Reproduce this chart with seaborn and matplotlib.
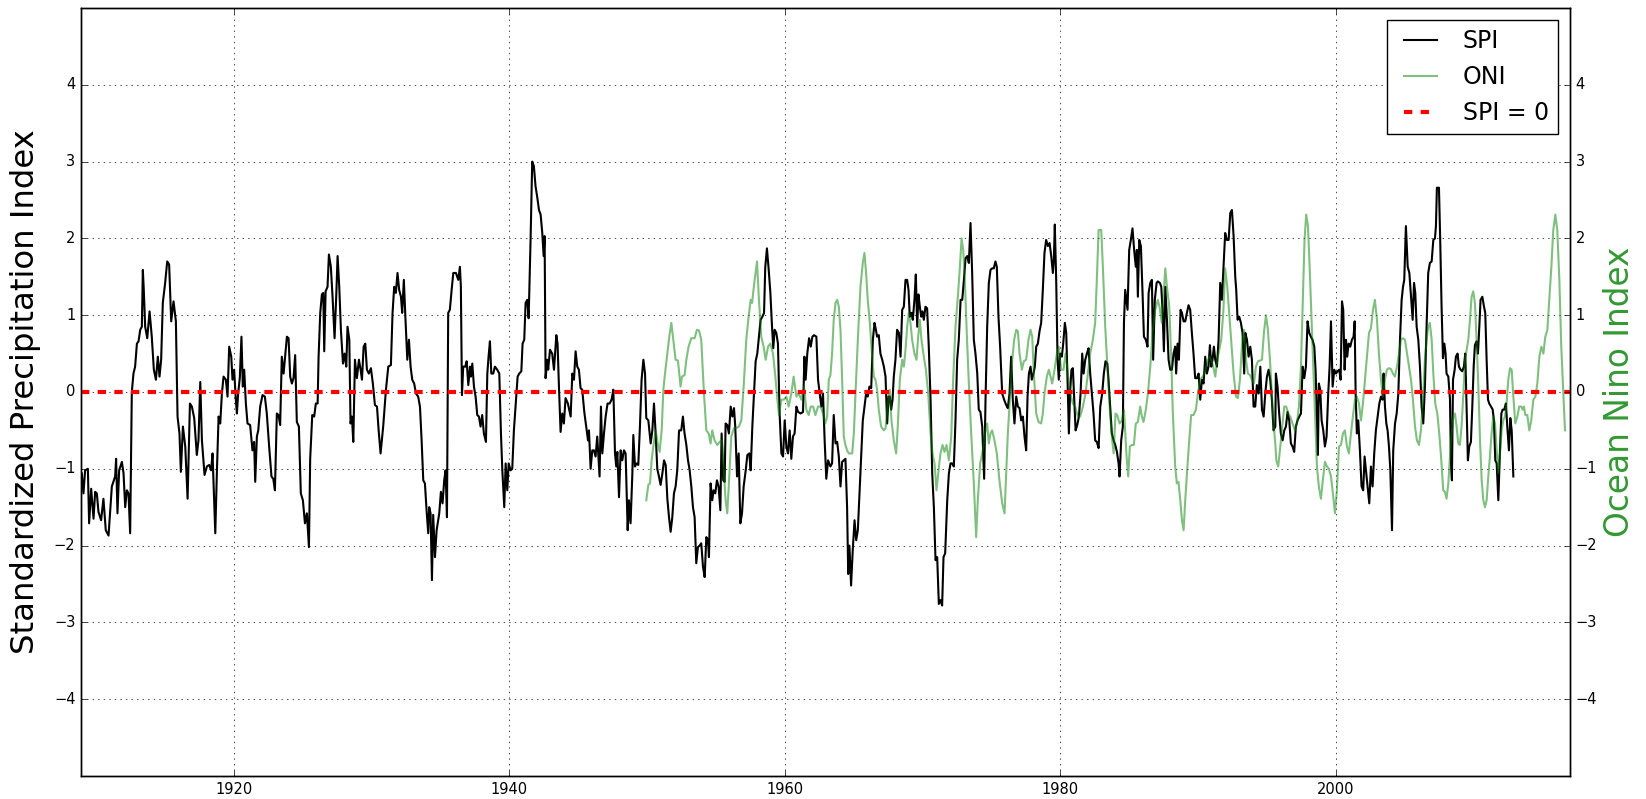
import matplotlib
matplotlib.use("Agg")
import matplotlib.pyplot as plt
import seaborn as sns

# SPI (year, value)
spi = [
    (1908.96, -1.06), (1909.08, -1.32), (1909.20, -1.02), (1909.40, -1.00), (1909.49, -1.71), (1909.64, -1.26),
    (1909.81, -1.65), (1909.93, -1.30), (1910.05, -1.32), (1910.17, -1.56), (1910.36, -1.67), (1910.53, -1.39),
    (1910.70, -1.80), (1910.90, -1.87), (1911.14, -1.23), (1911.38, -1.10), (1911.45, -0.87), (1911.55, -1.58),
    (1911.67, -1.02), (1911.87, -0.91), (1911.99, -1.06), (1912.11, -1.50), (1912.23, -1.28), (1912.35, -1.32),
    (1912.47, -1.84), (1912.59, 0.00), (1912.71, 0.24), (1912.83, 0.33), (1912.96, 0.63), (1913.08, 0.66),
    (1913.20, 0.81), (1913.32, 0.85), (1913.39, 1.59), (1913.46, 1.33), (1913.56, 0.85), (1913.71, 0.70),
    (1913.88, 1.05), (1914.04, 0.72), (1914.19, 0.29), (1914.34, 0.16), (1914.48, 0.46), (1914.60, 0.20),
    (1914.72, 0.42), (1914.84, 1.16), (1915.01, 1.42), (1915.16, 1.70), (1915.30, 1.66), (1915.45, 0.92),
    (1915.62, 1.18), (1915.79, 0.92), (1915.91, -0.32), (1916.05, -0.54), (1916.15, -1.04), (1916.30, -0.45),
    (1916.47, -0.71), (1916.64, -1.39), (1916.81, -0.15), (1916.95, -0.19), (1917.12, -0.34), (1917.31, -0.82),
    (1917.43, -0.63), (1917.56, 0.13), (1917.68, -0.63), (1917.87, -1.08), (1918.04, -0.97), (1918.21, -0.95),
    (1918.35, -1.02), (1918.45, -0.80), (1918.65, -1.84), (1918.77, -1.02), (1918.89, -0.32), (1919.01, -0.41),
    (1919.13, -0.02), (1919.25, 0.20), (1919.42, 0.16), (1919.54, -0.06), (1919.66, 0.59), (1919.81, 0.46),
    (1919.90, 0.16), (1920.02, 0.29), (1920.14, -0.10), (1920.22, -0.28), (1920.31, -0.02), (1920.43, 0.18),
    (1920.55, 0.72), (1920.65, 0.07), (1920.75, 0.29), (1920.87, -0.15), (1920.99, -0.41), (1921.18, -0.43),
    (1921.35, -0.76), (1921.47, -0.65), (1921.55, -1.17), (1921.67, -0.58), (1921.77, -0.50), (1921.91, -0.19),
    (1922.08, -0.04), (1922.25, -0.06), (1922.39, -0.28), (1922.56, -0.71), (1922.73, -1.10), (1922.86, -1.13),
    (1922.98, -1.28), (1923.12, -0.28), (1923.24, -0.30), (1923.36, -0.43), (1923.48, 0.46), (1923.61, 0.24),
    (1923.70, 0.42), (1923.85, 0.72), (1923.97, 0.70), (1924.09, 0.20), (1924.21, 0.11), (1924.33, 0.18),
    (1924.45, 0.48), (1924.57, -0.39), (1924.72, -0.45), (1924.86, -1.32), (1925.01, -1.41), (1925.16, -1.71),
    (1925.30, -1.58), (1925.45, -2.02), (1925.54, -0.87), (1925.69, -0.30), (1925.83, -0.32), (1925.95, -0.15),
    (1926.08, -0.15), (1926.15, 0.46), (1926.27, 1.03), (1926.39, 1.27), (1926.49, 1.29), (1926.56, 0.53),
    (1926.66, 1.31), (1926.80, 1.37), (1926.90, 1.79), (1927.04, 1.63), (1927.17, 1.22), (1927.31, 0.70),
    (1927.43, 1.24), (1927.53, 1.77), (1927.65, 1.37), (1927.77, 0.81), (1927.92, 0.37), (1928.04, 0.50),
    (1928.16, 0.33), (1928.25, 0.85), (1928.38, 0.68), (1928.47, -0.41), (1928.57, -0.32), (1928.67, -0.65),
    (1928.79, 0.42), (1928.93, 0.18), (1929.08, 0.42), (1929.20, 0.29), (1929.30, 0.16), (1929.42, 0.59),
    (1929.54, 0.63), (1929.66, 0.29), (1929.80, 0.24), (1929.95, 0.31), (1930.09, 0.11), (1930.24, -0.17),
    (1930.39, -0.19), (1930.51, -0.50), (1930.65, -0.80), (1930.84, -0.45), (1931.04, 0.03), (1931.21, 0.33),
    (1931.40, 0.35), (1931.52, 1.03), (1931.64, 1.37), (1931.76, 1.29), (1931.88, 1.55), (1932.00, 1.33),
    (1932.13, 1.24), (1932.22, 1.03), (1932.34, 1.46), (1932.46, 0.94), (1932.59, 0.42), (1932.71, 0.68),
    (1932.83, 0.33), (1932.95, 0.16), (1933.09, 0.11), (1933.22, -0.02), (1933.38, -0.06), (1933.51, -0.19),
    (1933.63, -0.63), (1933.75, -1.15), (1933.87, -1.19), (1933.99, -1.54), (1934.11, -1.84), (1934.18, -1.50),
    (1934.28, -1.58), (1934.38, -2.45), (1934.47, -1.60), (1934.60, -2.15), (1934.72, -1.80), (1934.91, -1.58),
    (1935.03, -1.30), (1935.15, -1.45), (1935.27, -1.15), (1935.37, -1.02), (1935.47, -1.63), (1935.56, 1.03),
    (1935.68, 1.07), (1935.81, 1.33), (1935.93, 1.55), (1936.12, 1.55), (1936.29, 1.46), (1936.41, 1.63),
    (1936.48, 1.37), (1936.56, -0.04), (1936.65, 0.33), (1936.80, 0.33), (1936.90, 0.40), (1937.02, 0.09),
    (1937.14, 0.33), (1937.21, 0.20), (1937.31, 0.37), (1937.43, 0.07), (1937.55, -0.06), (1937.67, -0.30),
    (1937.79, -0.32), (1937.91, -0.45), (1938.03, -0.30), (1938.15, -0.54), (1938.30, -0.65), (1938.40, 0.24),
    (1938.49, 0.46), (1938.59, 0.66), (1938.69, 0.24), (1938.83, 0.24), (1938.95, 0.33), (1939.12, 0.29),
    (1939.27, 0.24), (1939.39, -0.54), (1939.49, -1.02), (1939.63, -1.50), (1939.73, -0.93), (1939.85, -1.28),
    (1939.95, -0.93), (1940.09, -1.02), (1940.21, -1.00), (1940.33, -0.50), (1940.48, -0.10), (1940.60, 0.20),
    (1940.72, 0.24), (1940.87, 0.27), (1940.96, 0.63), (1941.08, 0.68), (1941.18, 1.16), (1941.30, 1.20),
    (1941.40, 0.96), (1941.54, 1.98), (1941.66, 3.00), (1941.78, 2.94), (1941.90, 2.68), (1942.03, 2.53),
    (1942.15, 2.37), (1942.27, 2.31), (1942.39, 2.07), (1942.49, 1.77), (1942.56, 2.03), (1942.63, 0.18),
    (1942.75, 0.42), (1942.82, 0.29), (1942.95, 0.55), (1943.11, 0.50), (1943.24, 0.29), (1943.41, 0.74),
    (1943.50, 0.63), (1943.60, 0.07), (1943.72, -0.52), (1943.84, -0.28), (1943.96, -0.41), (1944.08, -0.08),
    (1944.25, -0.15), (1944.45, -0.32), (1944.57, 0.24), (1944.69, 0.16), (1944.81, 0.53), (1944.93, 0.33),
    (1945.05, 0.29), (1945.17, 0.05), (1945.29, 0.03), (1945.44, -0.26), (1945.58, -0.45), (1945.71, -0.63),
    (1945.78, -0.50), (1945.90, -1.00), (1946.02, -0.76), (1946.14, -0.76), (1946.26, -0.84), (1946.38, -0.58),
    (1946.55, -1.10), (1946.65, -0.19), (1946.75, -0.80), (1946.87, -0.54), (1946.99, -0.32), (1947.13, -0.15),
    (1947.28, -0.15), (1947.42, -0.10), (1947.55, 0.03), (1947.67, -0.80), (1947.76, -0.97), (1947.84, -0.78),
    (1947.96, -1.37), (1948.08, -0.76), (1948.20, -0.89), (1948.32, -0.76), (1948.44, -0.80), (1948.59, -1.80),
    (1948.68, -1.41), (1948.80, -1.71), (1948.93, -1.06), (1949.00, -0.56), (1949.12, -0.97), (1949.24, -0.93),
    (1949.36, -0.95), (1949.48, -0.45), (1949.60, 0.16), (1949.73, 0.42), (1949.85, 0.24), (1949.94, -0.34),
    (1950.09, -0.37), (1950.26, -0.67), (1950.38, -0.50), (1950.50, -0.15), (1950.62, -0.54), (1950.74, -1.00),
    (1950.86, -1.10), (1950.98, -1.21), (1951.11, -1.06), (1951.23, -0.89), (1951.35, -0.95), (1951.47, -1.39),
    (1951.59, -1.63), (1951.71, -1.82), (1951.83, -1.63), (1951.95, -1.32), (1952.07, -1.23), (1952.19, -1.02),
    (1952.32, -0.50), (1952.48, -0.50), (1952.60, -0.32), (1952.72, -0.54), (1952.85, -0.69), (1952.97, -0.89),
    (1953.09, -1.02), (1953.21, -1.23), (1953.33, -1.50), (1953.45, -1.63), (1953.57, -2.23), (1953.69, -2.02),
    (1953.81, -2.00), (1953.93, -1.97), (1954.06, -2.28), (1954.18, -2.41), (1954.30, -1.89), (1954.42, -1.93),
    (1954.49, -2.15), (1954.61, -1.19), (1954.73, -1.41), (1954.83, -1.28), (1954.95, -1.32), (1955.07, -1.15),
    (1955.19, -1.23), (1955.32, -1.54), (1955.41, -0.54), (1955.53, -1.15), (1955.63, -1.17), (1955.70, -0.41),
    (1955.82, -0.43), (1955.94, -0.54), (1956.07, -0.19), (1956.19, -0.32), (1956.31, -0.21), (1956.40, -0.45),
    (1956.53, -1.10), (1956.65, -0.80), (1956.77, -1.71), (1956.89, -1.58), (1957.01, -1.23), (1957.16, -1.02),
    (1957.28, -0.82), (1957.42, -0.80), (1957.52, -1.02), (1957.64, -0.45), (1957.76, -0.02), (1957.88, 0.40),
    (1958.00, 0.50), (1958.12, 0.72), (1958.24, 0.94), (1958.37, 0.98), (1958.49, 1.03), (1958.58, 1.63),
    (1958.70, 1.87), (1958.83, 1.59), (1958.95, 1.29), (1959.07, 0.85), (1959.16, 0.57), (1959.26, 0.81),
    (1959.38, 0.77), (1959.50, 0.63), (1959.62, -0.28), (1959.75, -0.80), (1959.87, -0.84), (1959.99, -0.37),
    (1960.11, -0.71), (1960.23, -0.80), (1960.35, -0.50), (1960.47, -0.87), (1960.59, -0.58), (1960.71, -0.54),
    (1960.84, -0.19), (1960.96, -0.26), (1961.15, -0.28), (1961.32, -0.26), (1961.42, 0.46), (1961.51, 0.16),
    (1961.63, 0.50), (1961.76, 0.70), (1961.88, 0.59), (1962.00, 0.72), (1962.12, 0.74), (1962.29, 0.72),
    (1962.41, 0.16), (1962.53, -0.02), (1962.65, -0.19), (1962.77, -0.02), (1962.89, -0.63), (1963.01, -1.13),
    (1963.14, -0.89), (1963.31, -0.97), (1963.43, -0.93), (1963.55, -0.30), (1963.68, -0.67), (1963.80, -0.65),
    (1963.92, -0.84), (1964.04, -1.23), (1964.16, -0.91), (1964.28, -0.89), (1964.40, -0.87), (1964.52, -1.50),
    (1964.60, -2.37), (1964.69, -2.00), (1964.81, -2.52), (1964.93, -2.06), (1965.06, -1.67), (1965.18, -1.93),
    (1965.30, -1.80), (1965.42, -1.32), (1965.54, -0.84), (1965.66, -0.37), (1965.78, -0.19), (1965.90, -0.02),
    (1966.02, -0.06), (1966.14, 0.07), (1966.27, 0.05), (1966.39, 0.68), (1966.51, 0.90), (1966.61, 0.81),
    (1966.70, 0.72), (1966.82, 0.74), (1966.94, 0.50), (1967.07, 0.42), (1967.19, 0.33), (1967.31, 0.20),
    (1967.43, -0.41), (1967.53, -0.06), (1967.62, -0.06), (1967.72, -0.23), (1967.82, -0.10), (1967.91, 0.20),
    (1968.03, 0.42), (1968.15, 0.81), (1968.28, 0.77), (1968.40, 0.46), (1968.52, 1.07), (1968.64, 1.11),
    (1968.76, 1.46), (1968.88, 1.46), (1968.98, 1.33), (1969.07, 0.98), (1969.20, 1.03), (1969.29, 0.94),
    (1969.41, 1.20), (1969.51, 1.53), (1969.61, 0.85), (1969.70, 1.27), (1969.80, 1.11), (1969.90, 0.98),
    (1969.99, 1.05), (1970.09, 0.94), (1970.21, 1.11), (1970.33, 1.09), (1970.45, 0.59), (1970.58, -0.10),
    (1970.70, -1.06), (1970.82, -1.50), (1970.94, -2.19), (1971.06, -2.15), (1971.18, -2.76), (1971.30, -2.71),
    (1971.42, -2.78), (1971.52, -2.15), (1971.64, -2.10), (1971.79, -1.41), (1971.91, -1.06), (1972.03, -0.93),
    (1972.15, -0.93), (1972.27, -0.97), (1972.39, -0.37), (1972.51, 0.42), (1972.63, 0.68), (1972.76, 1.20),
    (1972.88, 1.20), (1973.00, 1.46), (1973.12, 1.74), (1973.24, 1.77), (1973.36, 1.68), (1973.48, 2.20),
    (1973.60, 1.55), (1973.72, 0.68), (1973.84, 0.50), (1973.97, 0.24), (1974.08, -0.23), (1974.20, -0.26),
    (1974.33, -0.45), (1974.47, -1.13), (1974.57, -0.10), (1974.69, 0.85), (1974.81, 1.42), (1974.93, 1.59),
    (1975.05, 1.61), (1975.17, 1.61), (1975.29, 1.70), (1975.39, 1.63), (1975.51, 0.98), (1975.63, 0.59),
    (1975.78, -0.02), (1975.92, -0.10), (1976.07, -0.17), (1976.19, -0.21), (1976.31, -0.02), (1976.43, 0.46),
    (1976.55, -0.10), (1976.67, -0.41), (1976.80, -0.06), (1976.92, -0.19), (1977.04, -0.21), (1977.16, -0.37),
    (1977.28, -0.32), (1977.40, -0.58), (1977.52, -0.76), (1977.62, -0.06), (1977.72, 0.24), (1977.84, 0.33),
    (1977.93, 0.16), (1978.05, 0.24), (1978.15, 0.33), (1978.25, 0.59), (1978.37, 0.63), (1978.49, 0.79),
    (1978.61, 0.90), (1978.73, 1.33), (1978.85, 1.81), (1978.97, 1.98), (1979.10, 1.90), (1979.22, 1.94),
    (1979.34, 1.77), (1979.46, 1.55), (1979.53, 1.72), (1979.60, 2.18), (1979.70, 1.46), (1979.80, 0.42),
    (1979.89, 0.16), (1979.99, 0.50), (1980.11, 0.46), (1980.21, 0.63), (1980.33, 0.90), (1980.43, 0.77),
    (1980.55, -0.02), (1980.62, -0.54), (1980.72, 0.03), (1980.81, 0.29), (1980.91, 0.31), (1981.01, -0.10),
    (1981.11, -0.50), (1981.23, -0.43), (1981.35, -0.32), (1981.47, -0.02), (1981.59, 0.50), (1981.69, 0.24),
    (1981.81, 0.42), (1981.93, 0.50), (1982.05, 0.57), (1982.17, 0.24), (1982.29, -0.02), (1982.41, -0.28),
    (1982.53, -0.63), (1982.65, -0.65), (1982.78, -0.73), (1982.90, -0.19), (1983.04, -0.02), (1983.16, 0.24),
    (1983.28, 0.40), (1983.41, 0.37), (1983.50, 0.16), (1983.62, -0.19), (1983.74, -0.54), (1983.87, -0.63),
    (1983.99, -0.69), (1984.11, -0.78), (1984.23, -0.93), (1984.30, -1.10), (1984.42, -0.63), (1984.54, -0.45),
    (1984.62, 0.90), (1984.71, 1.33), (1984.88, 1.07), (1985.00, 1.85), (1985.12, 1.98), (1985.24, 2.13),
    (1985.36, 1.85), (1985.48, 1.63), (1985.56, 1.85), (1985.63, 1.24), (1985.73, 1.98), (1985.85, 1.90),
    (1985.97, 1.29), (1986.07, 0.72), (1986.21, 0.68), (1986.33, 0.59), (1986.41, 1.29), (1986.53, 1.42),
    (1986.65, 1.46), (1986.74, 0.42), (1986.86, 1.20), (1986.99, 1.42), (1987.08, 1.44), (1987.23, 1.42),
    (1987.33, 1.37), (1987.42, 1.07), (1987.52, 0.53), (1987.62, 1.37), (1987.74, 0.94), (1987.86, 0.42),
    (1987.98, 0.29), (1988.10, 0.29), (1988.22, 0.50), (1988.34, 0.59), (1988.41, 0.24), (1988.51, 0.63),
    (1988.61, 0.42), (1988.73, 1.07), (1988.83, 1.03), (1988.95, 0.92), (1989.07, 0.92), (1989.19, 1.03),
    (1989.31, 1.13), (1989.43, 1.07), (1989.55, 0.77), (1989.67, 0.50), (1989.79, 0.18), (1989.92, 0.18),
    (1990.04, 0.24), (1990.16, -0.10), (1990.28, 0.16), (1990.40, 0.11), (1990.52, 0.46), (1990.64, 0.24),
    (1990.76, 0.33), (1990.86, 0.61), (1990.96, 0.33), (1991.05, 0.42), (1991.15, 0.59), (1991.25, 0.42),
    (1991.37, 0.33), (1991.49, 0.68), (1991.61, 1.42), (1991.73, 1.20), (1991.85, 1.63), (1991.97, 2.07),
    (1992.09, 1.98), (1992.22, 1.98), (1992.34, 2.33), (1992.46, 2.37), (1992.58, 2.03), (1992.70, 1.50),
    (1992.77, 1.33), (1992.87, 0.94), (1992.99, 0.98), (1993.11, 0.90), (1993.23, 0.77), (1993.35, 0.24),
    (1993.43, 0.77), (1993.55, 0.68), (1993.67, 0.46), (1993.79, 0.59), (1993.91, 0.42), (1994.03, -0.19),
    (1994.15, -0.19), (1994.27, 0.09), (1994.40, -0.02), (1994.52, 0.33), (1994.64, -0.23), (1994.76, -0.32),
    (1994.88, -0.02), (1995.00, 0.20), (1995.12, 0.29), (1995.24, 0.16), (1995.36, -0.10), (1995.48, -0.50),
    (1995.61, -0.45), (1995.65, 0.24), (1995.77, 0.07), (1995.89, -0.28), (1996.01, -0.54), (1996.14, -0.63),
    (1996.26, -0.50), (1996.38, -0.45), (1996.50, -0.26), (1996.62, -0.37), (1996.74, -0.67), (1996.86, -0.71),
    (1996.98, -0.78), (1997.10, -0.45), (1997.22, -0.37), (1997.35, -0.32), (1997.47, -0.28), (1997.59, 0.33),
    (1997.71, 0.18), (1997.83, 0.33), (1997.95, 0.92), (1998.07, 0.77), (1998.19, 0.72), (1998.31, 0.68),
    (1998.44, 0.59), (1998.53, 0.29), (1998.63, -0.32), (1998.70, -0.82), (1998.77, 0.11), (1998.87, 0.03),
    (1998.97, -0.37), (1999.09, -0.50), (1999.21, -0.71), (1999.33, -0.58), (1999.45, -0.02), (1999.55, 0.33),
    (1999.65, 0.92), (1999.77, 0.07), (1999.89, 0.29), (2000.01, 0.24), (2000.13, 0.27), (2000.25, 0.29),
    (2000.35, 0.16), (2000.45, 1.18), (2000.54, 1.07), (2000.64, 0.29), (2000.74, 0.68), (2000.83, 0.46),
    (2000.93, 0.63), (2001.05, 0.59), (2001.17, 0.68), (2001.29, 0.72), (2001.37, 0.92), (2001.44, -0.02),
    (2001.53, -0.54), (2001.63, -0.37), (2001.75, -0.76), (2001.87, -1.23), (2001.99, -1.28), (2002.09, -0.84),
    (2002.19, -1.02), (2002.31, -1.23), (2002.43, -1.45), (2002.55, -0.97), (2002.67, -1.23), (2002.79, -0.80),
    (2002.91, -0.50), (2003.04, -0.32), (2003.16, -0.15), (2003.28, -0.06), (2003.40, -0.10), (2003.47, 0.24),
    (2003.57, -0.19), (2003.67, -0.41), (2003.76, -0.50), (2003.86, -0.71), (2003.96, -1.02), (2004.08, -1.80),
    (2004.17, -0.76), (2004.30, -0.41), (2004.42, -0.28), (2004.54, -0.02), (2004.66, 0.68), (2004.78, 1.20),
    (2004.88, 1.37), (2004.97, 1.46), (2005.09, 2.16), (2005.22, 1.63), (2005.34, 1.55), (2005.46, 1.24),
    (2005.58, 0.94), (2005.68, 1.42), (2005.77, 1.29), (2005.87, 0.85), (2005.99, 0.68), (2006.11, 0.33),
    (2006.23, -0.19), (2006.35, -0.41), (2006.47, 0.07), (2006.59, 0.85), (2006.71, 1.55), (2006.83, 1.68),
    (2006.96, 1.70), (2007.08, 1.98), (2007.20, 2.00), (2007.27, 2.16), (2007.34, 2.66), (2007.49, 2.66),
    (2007.58, 1.98), (2007.68, 1.11), (2007.78, 0.44), (2007.88, 0.63), (2007.97, 0.50), (2008.04, 0.24),
    (2008.17, 0.20), (2008.29, -0.10), (2008.36, -0.93), (2008.43, -1.15), (2008.51, 0.16), (2008.63, 0.29),
    (2008.72, 0.46), (2008.84, 0.50), (2008.94, 0.33), (2009.06, 0.29), (2009.18, 0.27), (2009.30, 0.33),
    (2009.40, 0.50), (2009.50, -0.23), (2009.59, -0.89), (2009.69, -0.71), (2009.81, -0.65), (2009.91, -0.19),
    (2010.01, 0.33), (2010.10, 0.61), (2010.22, 0.66), (2010.32, 0.50), (2010.42, 0.85), (2010.51, 1.20),
    (2010.64, 1.24), (2010.76, 1.11), (2010.85, 1.03), (2010.95, 0.42), (2011.05, -0.10), (2011.14, -0.15),
    (2011.27, -0.19), (2011.39, -0.23), (2011.48, -0.37), (2011.58, -0.89), (2011.68, -0.93), (2011.80, -1.41),
    (2011.92, -0.76), (2012.02, -0.28), (2012.11, -0.23), (2012.23, -0.23), (2012.35, -0.15), (2012.45, -0.45),
    (2012.57, -0.76), (2012.67, -0.34), (2012.77, -0.50), (2012.89, -1.10),
]

# ONI (year, value)
oni = [
    (1949.94, -1.41), (1950.09, -1.21), (1950.21, -1.19), (1950.33, -0.89), (1950.45, -0.71), (1950.62, -0.50),
    (1950.77, -0.67), (1950.91, -0.78), (1951.06, -0.50), (1951.18, 0.03), (1951.30, 0.24), (1951.47, 0.50),
    (1951.61, 0.72), (1951.76, 0.90), (1951.90, 0.68), (1952.07, 0.42), (1952.24, 0.41), (1952.43, 0.07),
    (1952.53, 0.20), (1952.72, 0.22), (1952.85, 0.42), (1953.01, 0.59), (1953.21, 0.70), (1953.45, 0.70),
    (1953.62, 0.81), (1953.77, 0.80), (1953.93, 0.68), (1954.13, -0.02), (1954.30, -0.50), (1954.47, -0.54),
    (1954.61, -0.67), (1954.73, -0.50), (1954.90, -0.63), (1955.10, -0.69), (1955.27, -0.65), (1955.44, -0.63),
    (1955.58, -1.06), (1955.70, -1.41), (1955.82, -1.58), (1955.94, -1.19), (1956.11, -0.58), (1956.31, -0.47),
    (1956.48, -0.47), (1956.67, -0.45), (1956.84, -0.37), (1957.01, 0.07), (1957.20, 0.68), (1957.37, 0.98),
    (1957.52, 1.20), (1957.62, 1.16), (1957.81, 1.46), (1957.98, 1.70), (1958.12, 1.20), (1958.29, 0.72),
    (1958.46, 0.59), (1958.61, 0.42), (1958.78, 0.59), (1958.95, 0.63), (1959.14, 0.50), (1959.31, 0.20),
    (1959.46, -0.10), (1959.58, -0.30), (1959.75, -0.10), (1959.94, -0.10), (1960.11, -0.06), (1960.28, -0.19),
    (1960.47, -0.02), (1960.64, 0.20), (1960.84, -0.06), (1961.01, -0.02), (1961.20, -0.10), (1961.39, 0.07),
    (1961.56, -0.23), (1961.73, -0.30), (1961.88, -0.19), (1962.05, -0.19), (1962.22, -0.30), (1962.41, -0.19),
    (1962.60, -0.19), (1962.77, -0.28), (1962.94, -0.41), (1963.07, -0.32), (1963.19, 0.16), (1963.31, 0.22),
    (1963.43, 0.50), (1963.55, 0.94), (1963.68, 1.16), (1963.80, 1.20), (1963.92, 1.11), (1964.04, 0.81),
    (1964.16, 0.16), (1964.28, -0.58), (1964.40, -0.69), (1964.52, -0.76), (1964.64, -0.80), (1964.89, -0.80),
    (1965.01, -0.54), (1965.13, -0.02), (1965.30, 0.68), (1965.49, 1.37), (1965.66, 1.68), (1965.78, 1.81),
    (1965.90, 1.55), (1966.02, 1.20), (1966.17, 0.90), (1966.34, 0.46), (1966.46, 0.20), (1966.58, 0.16),
    (1966.70, 0.03), (1966.82, -0.23), (1966.99, -0.45), (1967.19, -0.50), (1967.31, -0.47), (1967.48, -0.15),
    (1967.62, 0.03), (1967.74, -0.37), (1967.91, -0.63), (1968.08, -0.80), (1968.20, -0.45), (1968.35, 0.16),
    (1968.52, 0.42), (1968.64, 0.33), (1968.76, 0.55), (1968.88, 0.85), (1969.00, 1.03), (1969.12, 0.90),
    (1969.24, 0.68), (1969.41, 0.50), (1969.56, 0.42), (1969.68, 0.72), (1969.80, 0.94), (1969.92, 0.68),
    (1970.09, 0.46), (1970.24, 0.29), (1970.41, -0.02), (1970.58, -0.54), (1970.72, -0.80), (1970.87, -0.93),
    (1971.01, -1.28), (1971.16, -1.02), (1971.30, -0.80), (1971.45, -0.69), (1971.59, -0.78), (1971.74, -0.69),
    (1971.91, -0.89), (1972.08, -0.58), (1972.22, 0.16), (1972.39, 0.85), (1972.56, 1.24), (1972.71, 1.63),
    (1972.83, 2.00), (1972.95, 1.85), (1973.07, 1.46), (1973.19, 0.85), (1973.36, 0.11), (1973.53, -0.54),
    (1973.72, -1.19), (1973.89, -1.89), (1974.01, -1.41), (1974.18, -0.93), (1974.37, -0.76), (1974.54, -0.54),
    (1974.69, -0.41), (1974.81, -0.67), (1974.93, -0.54), (1975.05, -0.50), (1975.22, -0.63), (1975.39, -0.80),
    (1975.58, -1.15), (1975.78, -1.45), (1975.95, -1.58), (1976.07, -1.06), (1976.19, -0.54), (1976.36, -0.02),
    (1976.51, 0.42), (1976.65, 0.68), (1976.80, 0.81), (1976.92, 0.79), (1977.04, 0.50), (1977.21, 0.29),
    (1977.35, 0.40), (1977.52, 0.42), (1977.69, 0.68), (1977.84, 0.81), (1977.96, 0.72), (1978.08, 0.24),
    (1978.25, -0.28), (1978.42, -0.39), (1978.61, -0.41), (1978.73, -0.28), (1978.85, -0.02), (1979.02, 0.20),
    (1979.17, 0.29), (1979.29, 0.20), (1979.41, 0.11), (1979.58, 0.29), (1979.75, 0.50), (1979.89, 0.59),
    (1980.06, 0.29), (1980.23, 0.29), (1980.38, 0.50), (1980.55, 0.24), (1980.72, -0.02), (1980.91, -0.15),
    (1981.08, -0.19), (1981.27, -0.32), (1981.44, -0.32), (1981.64, -0.19), (1981.83, -0.02), (1982.00, 0.24),
    (1982.17, 0.50), (1982.36, 0.68), (1982.53, 0.90), (1982.65, 1.46), (1982.78, 2.11), (1982.97, 2.11),
    (1983.09, 1.63), (1983.26, 0.85), (1983.41, 0.37), (1983.58, -0.19), (1983.72, -0.54), (1983.87, -0.80),
    (1984.01, -0.28), (1984.13, -0.30), (1984.30, -0.41), (1984.47, -0.37), (1984.62, -0.23), (1984.81, -0.84),
    (1984.93, -1.10), (1985.05, -0.71), (1985.19, -0.69), (1985.34, -0.69), (1985.48, -0.41), (1985.63, -0.39),
    (1985.80, -0.19), (1985.92, -0.32), (1986.04, -0.39), (1986.21, -0.23), (1986.36, -0.02), (1986.53, 0.33),
    (1986.70, 0.77), (1986.89, 1.07), (1987.08, 1.20), (1987.20, 1.11), (1987.37, 0.90), (1987.49, 1.24),
    (1987.62, 1.61), (1987.74, 1.37), (1987.91, 1.11), (1988.05, 0.46), (1988.17, -0.28), (1988.34, -0.97),
    (1988.46, -1.19), (1988.58, -1.17), (1988.71, -1.41), (1988.83, -1.67), (1988.95, -1.80), (1989.07, -1.41),
    (1989.21, -1.02), (1989.36, -0.63), (1989.50, -0.30), (1989.67, -0.30), (1989.84, -0.23), (1989.99, -0.02),
    (1990.16, 0.16), (1990.33, 0.20), (1990.47, 0.24), (1990.64, 0.37), (1990.81, 0.46), (1990.96, 0.42),
    (1991.10, 0.33), (1991.25, 0.20), (1991.39, 0.42), (1991.54, 0.55), (1991.68, 0.68), (1991.83, 1.03),
    (1991.97, 1.61), (1992.12, 1.37), (1992.26, 1.03), (1992.41, 0.68), (1992.58, 0.24), (1992.75, -0.06),
    (1992.89, -0.08), (1993.04, 0.16), (1993.18, 0.59), (1993.33, 0.81), (1993.48, 0.42), (1993.62, 0.24),
    (1993.77, 0.22), (1993.91, 0.16), (1994.06, 0.11), (1994.20, 0.33), (1994.35, 0.40), (1994.52, 0.41),
    (1994.64, 0.42), (1994.78, 0.77), (1994.93, 1.00), (1995.07, 0.81), (1995.22, 0.42), (1995.36, -0.02),
    (1995.48, -0.41), (1995.61, -0.67), (1995.68, -0.89), (1995.82, -0.97), (1995.97, -0.71), (1996.11, -0.45),
    (1996.26, -0.19), (1996.40, -0.19), (1996.55, -0.28), (1996.69, -0.32), (1996.86, -0.41), (1997.03, -0.50),
    (1997.18, -0.41), (1997.32, -0.19), (1997.47, 0.33), (1997.61, 1.20), (1997.73, 1.98), (1997.85, 2.31),
    (1997.98, 2.16), (1998.10, 1.63), (1998.24, 0.94), (1998.39, 0.24), (1998.51, -0.41), (1998.63, -0.97),
    (1998.77, -1.23), (1998.92, -1.39), (1999.06, -1.15), (1999.21, -0.91), (1999.36, -0.97), (1999.50, -1.00),
    (1999.65, -1.10), (1999.79, -1.32), (1999.94, -1.58), (2000.08, -1.28), (2000.23, -0.71), (2000.37, -0.69),
    (2000.52, -0.54), (2000.66, -0.50), (2000.81, -0.71), (2000.95, -0.80), (2001.10, -0.54), (2001.24, -0.32),
    (2001.39, -0.10), (2001.53, -0.06), (2001.68, -0.15), (2001.83, -0.37), (2001.97, -0.15), (2002.12, 0.16),
    (2002.26, 0.46), (2002.41, 0.77), (2002.55, 0.83), (2002.70, 1.07), (2002.84, 1.20), (2002.99, 0.94),
    (2003.13, 0.50), (2003.28, 0.16), (2003.42, -0.06), (2003.57, 0.16), (2003.71, 0.29), (2003.86, 0.31),
    (2004.00, 0.30), (2004.15, 0.24), (2004.29, 0.20), (2004.44, 0.33), (2004.59, 0.50), (2004.73, 0.68),
    (2004.88, 0.70), (2005.02, 0.68), (2005.17, 0.50), (2005.31, 0.33), (2005.46, 0.16), (2005.60, -0.10),
    (2005.75, -0.45), (2005.89, -0.63), (2006.04, -0.69), (2006.18, -0.50), (2006.33, -0.10), (2006.47, 0.42),
    (2006.59, 0.68), (2006.71, 0.85), (2006.83, 0.90), (2006.96, 0.68), (2007.08, 0.24), (2007.22, -0.15),
    (2007.37, -0.28), (2007.51, -0.54), (2007.66, -0.89), (2007.80, -1.28), (2007.92, -1.30), (2008.04, -1.39),
    (2008.17, -1.19), (2008.29, -0.84), (2008.41, -0.54), (2008.53, -0.32), (2008.65, -0.28), (2008.77, -0.45),
    (2008.89, -0.67), (2009.01, -0.69), (2009.13, -0.45), (2009.26, -0.02), (2009.38, 0.42), (2009.50, 0.55),
    (2009.62, 0.68), (2009.74, 0.94), (2009.86, 1.24), (2009.98, 1.31), (2010.10, 1.16), (2010.22, 0.68),
    (2010.35, 0.07), (2010.47, -0.63), (2010.59, -1.15), (2010.71, -1.41), (2010.83, -1.50), (2010.95, -1.41),
    (2011.07, -1.10), (2011.19, -0.84), (2011.31, -0.54), (2011.43, -0.32), (2011.56, -0.41), (2011.68, -0.76),
    (2011.80, -1.06), (2011.92, -0.80), (2012.04, -0.50), (2012.16, -0.37), (2012.28, -0.32), (2012.40, -0.15),
    (2012.52, 0.16), (2012.65, 0.31), (2012.77, 0.29), (2012.89, -0.06), (2013.03, -0.41), (2013.18, -0.32),
    (2013.32, -0.19), (2013.47, -0.19), (2013.57, -0.23), (2013.66, -0.19), (2013.76, -0.30), (2013.90, -0.30),
    (2014.05, -0.50), (2014.19, -0.37), (2014.34, -0.10), (2014.49, -0.06), (2014.63, 0.11), (2014.78, 0.46),
    (2014.92, 0.59), (2015.07, 0.50), (2015.21, 0.72), (2015.36, 0.81), (2015.50, 1.20), (2015.65, 1.63),
    (2015.79, 2.11), (2015.94, 2.31), (2016.08, 2.11), (2016.23, 1.46), (2016.37, 0.59), (2016.52, -0.02),
    (2016.64, -0.50),
]

year_ticks = [1920, 1940, 1960, 1980, 2000]
index_ticks = [-4, -3, -2, -1, 0, 1, 2, 3, 4]

plt.style.use("classic")
plt.rcParams["font.family"] = ["DejaVu Sans"]

spi_years, spi_values = zip(*spi)
oni_years, oni_values = zip(*oni)

fig = plt.figure(figsize=(16.46, 7.99), dpi=100, facecolor="white")
ax1 = fig.add_axes([0.0492, 0.0288, 0.9046, 0.9612])

# SPI on the left axis
sns.lineplot(x=list(spi_years), y=list(spi_values), ax=ax1, color="black", linewidth=1.5,
             estimator=None, sort=False, legend=False)
ax1.set_xlim(1908.9, 2017.0)
ax1.set_ylim(-5, 5)
ax1.set_xticks(year_ticks)
ax1.set_yticks(index_ticks)
ax1.ticklabel_format(axis="x", useOffset=False, style="plain")
ax1.grid(True)
ax1.tick_params(labelsize=10.5)
ax1.set_ylabel("Standardized Precipitation Index", fontsize=23.3)
ax1.yaxis.set_label_coords(-0.027, 0.5)

# ONI on the right axis
ax2 = ax1.twinx()
sns.lineplot(x=list(oni_years), y=list(oni_values), ax=ax2, color="green", alpha=0.5, linewidth=1.5,
             estimator=None, sort=False, legend=False)
zero = ax2.axhline(0, color="red", linestyle="--", linewidth=3)
ax2.set_xlim(1908.9, 2017.0)
ax2.set_ylim(-5, 5)
ax2.set_yticks(index_ticks)
ax2.tick_params(labelsize=10.5)
ax2.set_ylabel("Ocean Nino Index", fontsize=23.6, color="#339933")
ax2.yaxis.set_label_coords(1.0225, 0.5)

handles = [ax1.lines[0], ax2.lines[0], zero]
ax2.legend(handles, ["SPI", "ONI", "SPI = 0"], loc="upper right", fontsize=17, handlelength=2.0)

fig.savefig("out.png", dpi=100, facecolor="white")
